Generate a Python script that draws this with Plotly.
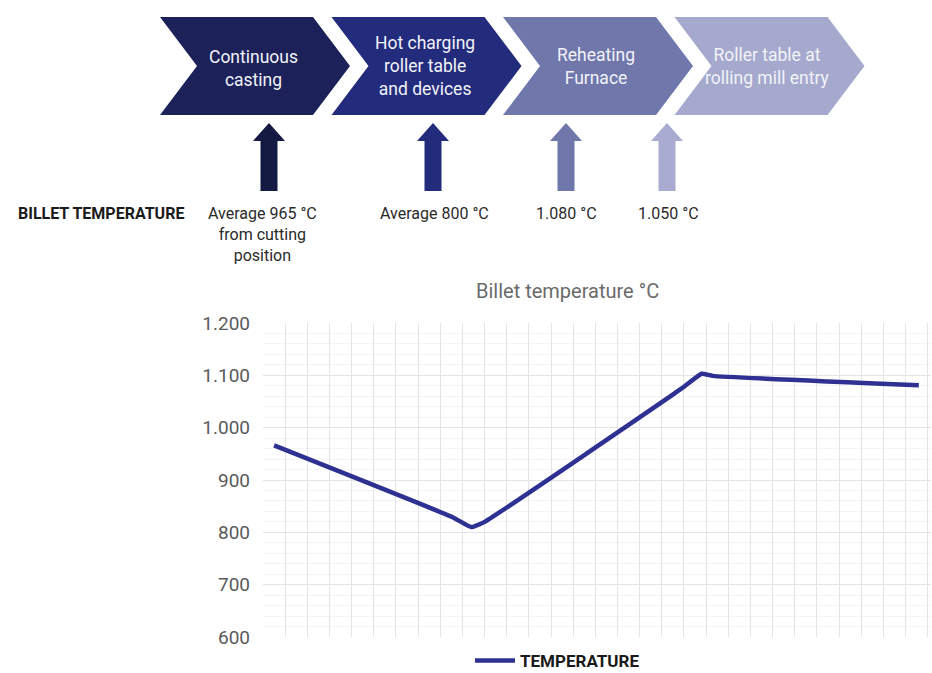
import plotly.graph_objects as go

# ---------------- data ----------------
stages = ["Continuous<br>casting", "Hot charging<br>roller table<br>and devices",
          "Reheating<br>Furnace", "Roller table at<br>rolling mill entry"]
stage_colors = ["#1c2259", "#232b7c", "#7077ab", "#a5a9cd"]
arrow_colors = ["#151a42", "#232b7c", "#7077ab", "#a9acd0"]
temp_labels = ["Average 965 °C<br>from cutting<br>position", "Average 800 °C", "1.080 °C", "1.050 °C"]

pos = [0.5, 8.6, 9.4, 10.0, 18.9, 19.8, 20.3, 29.6]
temperature = [966, 828, 810, 820, 1075, 1103, 1099, 1081]

y_ticks = [600, 700, 800, 900, 1000, 1100, 1200]
y_ticktext = ["600", "700", "800", "900", "1.000", "1.100", "1.200"]

# ---------------- layout helpers ----------------
W, H = 932, 673
L, R, T, B = 263, 1, 323, 36
PW, PH = W - L - R, H - T - B


def px(x):
    return (x - L) / PW


def py(y):
    return (H - B - y) / PH


FONT = "Roboto"

fig = go.Figure()
fig.add_trace(go.Scatter(
    x=pos, y=temperature, mode="lines", name="<b>TEMPERATURE</b>",
    line=dict(color="#2e3192", width=4.5, shape="spline", smoothing=0.4),
))

shapes = []
annotations = []

# chevrons
chev_left = [160, 331.5, 503, 674.5]
text_dy = [2.5, 0, 0, 0]
cw, depth, top, bot = 190, 37, 17, 115
mid = (top + bot) / 2
for i, (x0, col) in enumerate(zip(chev_left, stage_colors)):
    pts = [(x0, top), (x0 + cw - depth, top), (x0 + cw, mid), (x0 + cw - depth, bot),
           (x0, bot), (x0 + depth, mid)]
    path = "M " + " L ".join(f"{px(a):.5f},{py(b):.5f}" for a, b in pts) + " Z"
    shapes.append(dict(type="path", xref="paper", yref="paper", path=path,
                       fillcolor=col, line=dict(width=0), layer="above"))
    annotations.append(dict(xref="paper", yref="paper", x=px(x0 + cw / 2 - 2),
                            y=py(mid + text_dy[i]), text=stages[i], showarrow=False,
                            font=dict(family=FONT, size=17.5, color="#f2f3f8"),
                            xanchor="center", yanchor="middle"))

# arrows
arrow_cx = [269, 433, 566, 667]
for cx, col in zip(arrow_cx, arrow_colors):
    hw, sw, tip, hb, base = 16, 8.5, 123, 141, 191
    pts = [(cx, tip), (cx + hw, hb), (cx + sw, hb), (cx + sw, base), (cx - sw, base),
           (cx - sw, hb), (cx - hw, hb)]
    path = "M " + " L ".join(f"{px(a):.5f},{py(b):.5f}" for a, b in pts) + " Z"
    shapes.append(dict(type="path", xref="paper", yref="paper", path=path,
                       fillcolor=col, line=dict(width=0), layer="above"))

# temperature labels
annotations.append(dict(xref="paper", yref="paper", x=px(16), y=py(213), text="<b>BILLET TEMPERATURE</b>",
                        showarrow=False, xanchor="left", yanchor="middle",
                        font=dict(family=FONT, size=16, color="#1a1a1a")))
label_cx = [262, 434, 566, 668]
for cx, t in zip(label_cx, temp_labels):
    annotations.append(dict(xref="paper", yref="paper", x=px(cx), y=py(202), text=t,
                            showarrow=False, xanchor="center", yanchor="top",
                            font=dict(family=FONT, size=16, color="#2a2a2a")))

# chart title
annotations.append(dict(xref="paper", yref="paper", x=px(567), y=py(291), text="Billet temperature °C",
                        showarrow=False, xanchor="center", yanchor="middle",
                        font=dict(family=FONT, size=20, color="#6a6a6a")))

fig.update_layout(
    width=W, height=H,
    margin=dict(l=L, r=R, t=T, b=B, autoexpand=False),
    paper_bgcolor="white", plot_bgcolor="white",
    shapes=shapes, annotations=annotations,
    showlegend=True,
    legend=dict(orientation="h", x=px(470), y=py(679), xanchor="left", yanchor="bottom",
                font=dict(family=FONT, size=17, color="#1a1a1a"), bgcolor="rgba(0,0,0,0)",
                itemwidth=40, borderwidth=0),
    font=dict(family=FONT),
)
fig.update_xaxes(range=[0, 30.15], dtick=1, tick0=0, showticklabels=False, showgrid=True,
                 gridcolor="#e4e4e4", gridwidth=1, zeroline=False, showline=False, fixedrange=True)
fig.update_yaxes(range=[600, 1200], tickvals=y_ticks, ticktext=y_ticktext, showgrid=True,
                 gridcolor="#e4e4e4", gridwidth=1, zeroline=False, showline=False,
                 tickfont=dict(family=FONT, size=19, color="#5a5a5a"), ticklabelstandoff=12,
                 minor=dict(dtick=20, tick0=600, showgrid=True, gridcolor="#f3f3f3", gridwidth=1),
                 fixedrange=True)

fig.write_html("out.html")
